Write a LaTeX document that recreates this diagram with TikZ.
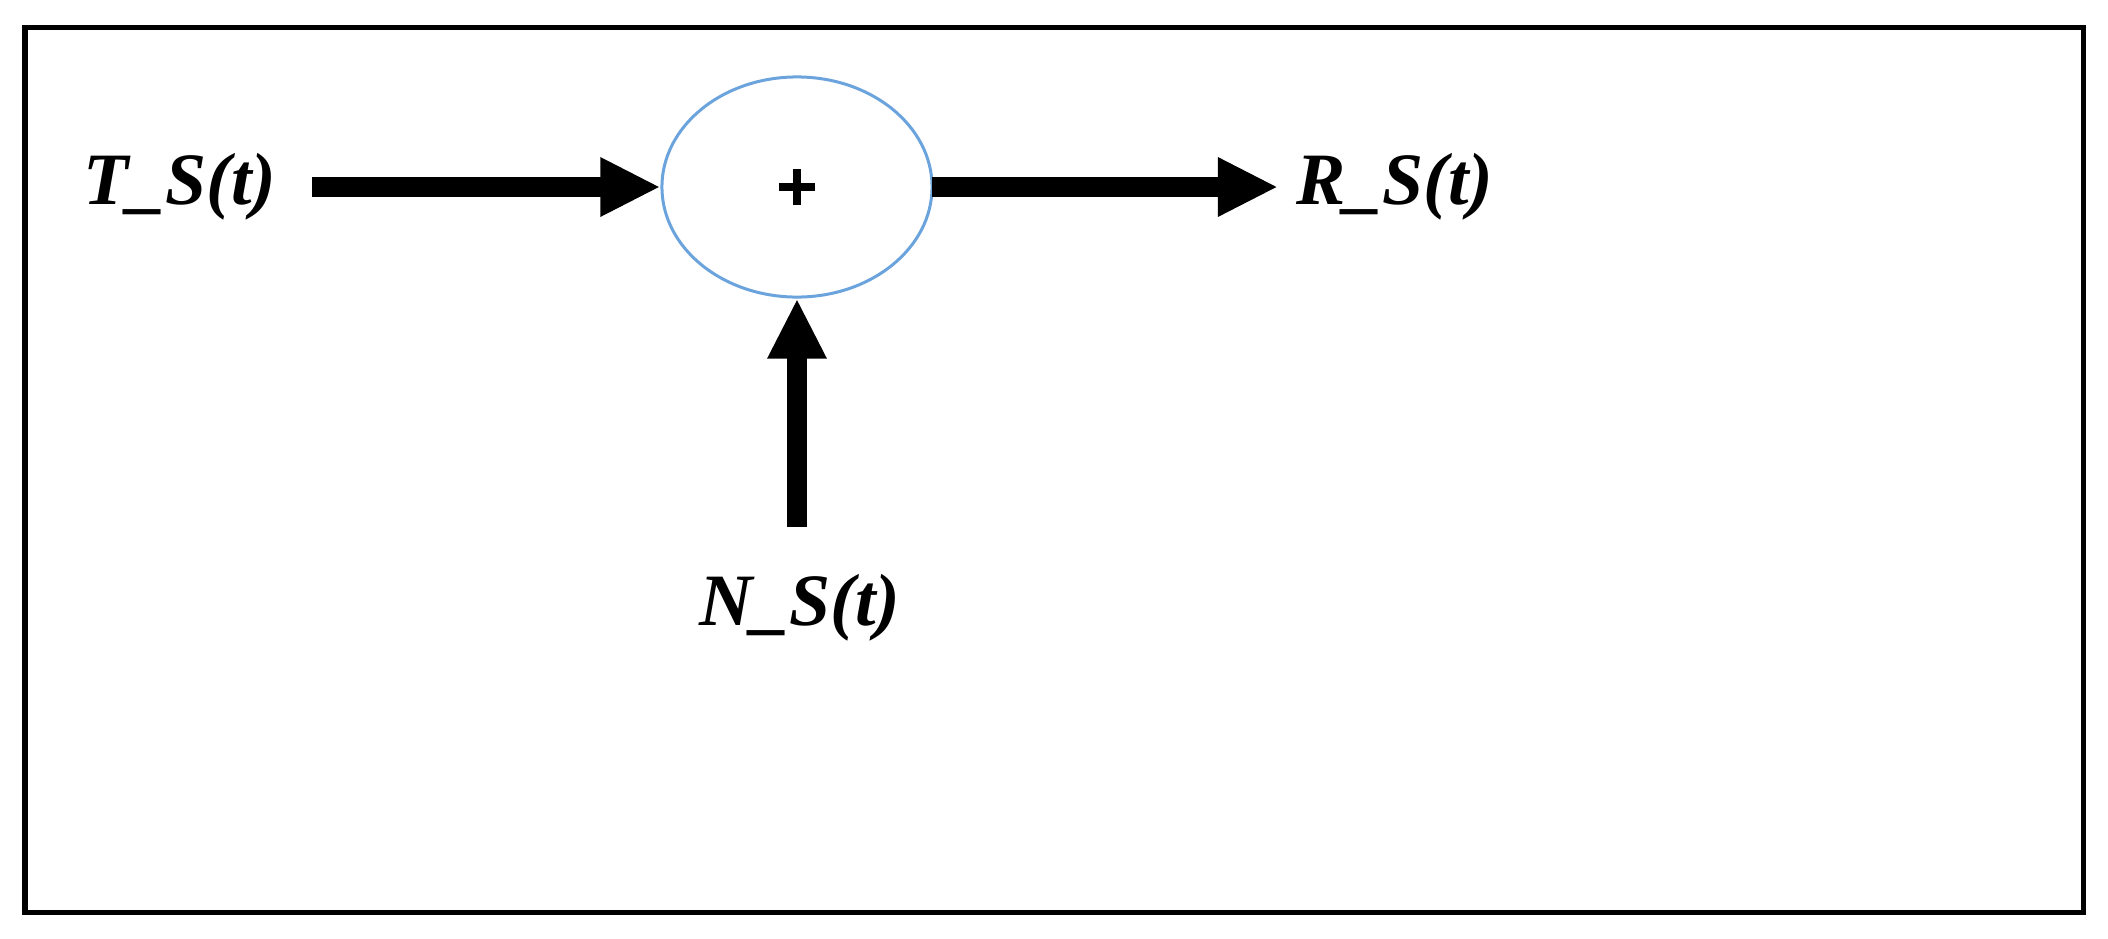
\documentclass[tikz,border=0pt]{standalone}
\usepackage{fontspec}
\setmainfont{Liberation Serif}
\usetikzlibrary{arrows.meta,shapes.geometric}
\begin{document}
\begin{tikzpicture}[x=0.01cm,y=-0.01cm,
  lbl/.style={font=\fontsize{21}{25}\selectfont\bfseries\itshape, inner sep=0pt},
  bigarrow/.style={line width=0.2cm, -{Triangle[length=0.6cm,width=0.55cm]}}]
\useasboundingbox (0,0) rectangle (2108,939);
\draw[line width=0.05cm] (25,27) rectangle (2083,912);
\node[draw=cyan!60!blue!60, line width=0.03cm, ellipse, minimum width=2.7cm, minimum height=2.2cm] (sum) at (797,187) {};
\draw[line width=0.08cm] ([xshift=-0.18cm]sum.center) -- ([xshift=0.18cm]sum.center)
  ([yshift=-0.18cm]sum.center) -- ([yshift=0.18cm]sum.center);
\node[lbl] (t) at (180,187) {T\_S(t)};
\node[lbl] (r) at (1395,187) {R\_S(t)};
\node[lbl] (n) at (800,608) {N\_S(t)};
\coordinate (ts) at (312,187);
\coordinate (rs) at (932,187);
\coordinate (re) at (1278,187);
\coordinate (ns) at (797,527);
\draw[bigarrow] (ts) -- (sum.west);
\draw[bigarrow] (rs) -- (re);
\draw[bigarrow] (ns) -- (sum.south);
\end{tikzpicture}
\end{document}
